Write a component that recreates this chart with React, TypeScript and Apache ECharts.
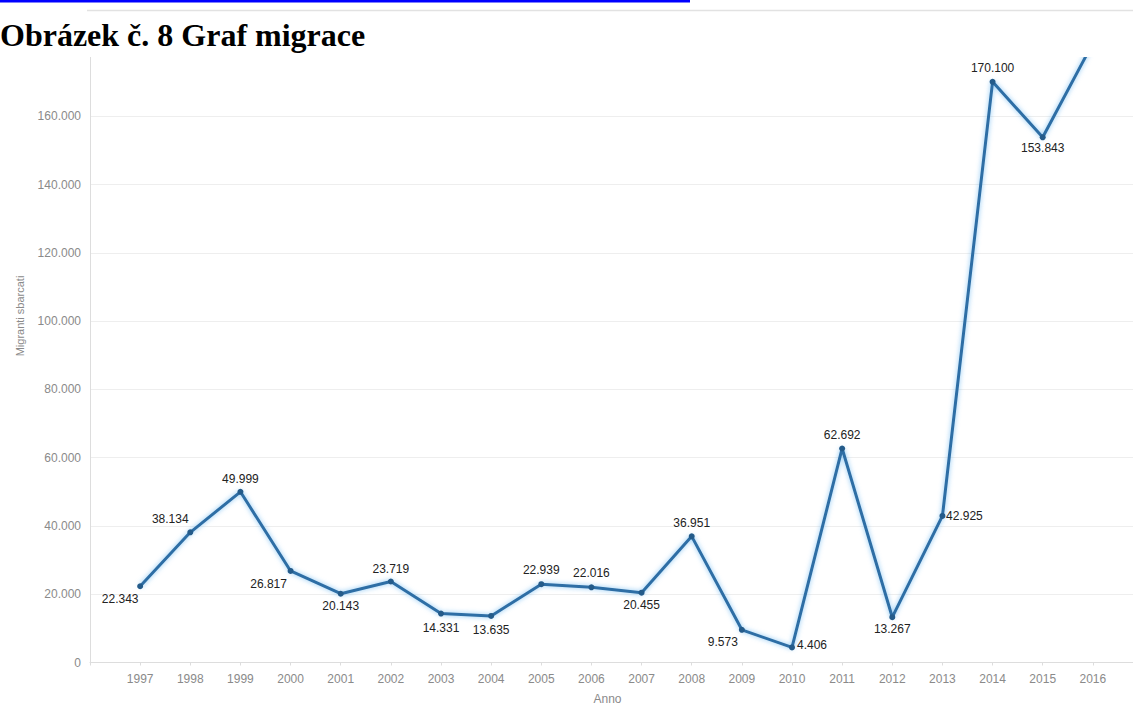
import React, { useEffect, useRef } from "react";
import * as echarts from "echarts";

const years: number[] = [1997, 1998, 1999, 2000, 2001, 2002, 2003, 2004, 2005, 2006, 2007, 2008, 2009, 2010, 2011, 2012, 2013, 2014, 2015, 2016];
const migrants: number[] = [22343, 38134, 49999, 26817, 20143, 23719, 14331, 13635, 22939, 22016, 20455, 36951, 9573, 4406, 62692, 13267, 42925, 170100, 153843, 181436];
// where each value label sits relative to its point (dx, dy in px); null = not visible
const labelOffsets: ([number, number] | null)[] = [
  [-20, 13], [-20, -13], [0, -13], [-22, 13], [0, 12], [0, -13], [0, 14], [0, 14], [0, -14], [0, -14],
  [0, 12], [0, -13], [-19, 12], [20, -2], [0, -13], [0, 12], [22, 0], [0, -14], [0, 11], null,
];

const chartTitle = "Obrázek č. 8 Graf migrace";
const xAxisName = "Anno";
const yAxisName = "Migranti sbarcati";
const xMin = 1996;
const xMax = 2017;
const yMin = 0;
const yMax = 180000;
const yStep = 20000;

const fmt = (n: number) => String(n).replace(/\B(?=(\d{3})+(?!\d))/g, ".");

export default function App() {
  const ref = useRef<HTMLDivElement>(null);
  useEffect(() => {
    if (!ref.current) return;
    const chart = echarts.init(ref.current, undefined, { renderer: "svg" });
    const sans = "Arial, 'Liberation Sans', sans-serif";
    chart.setOption({
      animation: false,
      backgroundColor: "#ffffff",
      grid: { left: 90, top: 48, width: 1053, height: 614.5, containLabel: false, outerBoundsMode: "none" },
      xAxis: {
        type: "value",
        min: xMin,
        max: xMax,
        interval: 1,
        name: xAxisName,
        nameLocation: "middle",
        nameGap: 30,
        nameTextStyle: { color: "#8a8a8a", fontSize: 12, fontFamily: sans, padding: [0, 18, 0, 0] },
        axisLine: { show: true, lineStyle: { color: "#dddddd", width: 1 } },
        axisTick: { show: true, length: 3, lineStyle: { color: "#dddddd" } },
        splitLine: { show: false },
        axisLabel: {
          color: "#8a8a8a",
          fontSize: 12,
          fontFamily: sans,
          margin: 10,
          formatter: (v: number) => (v <= xMin || v >= xMax ? "" : String(v)),
        },
      },
      yAxis: {
        type: "value",
        min: yMin,
        max: yMax,
        interval: yStep,
        axisLine: { show: true, lineStyle: { color: "#dddddd", width: 1 } },
        axisTick: { show: false },
        splitLine: { show: true, lineStyle: { color: "#eeeeee", width: 1 } },
        axisLabel: {
          color: "#8a8a8a",
          fontSize: 12,
          fontFamily: sans,
          margin: 9,
          formatter: (v: number) => (v >= yMax ? "" : fmt(v)),
        },
      },
      series: [
        {
          type: "line",
          clip: true,
          symbol: "circle",
          symbolSize: 6,
          itemStyle: { color: "#245b8a" },
          lineStyle: { color: "#2d6ea5", width: 3, shadowColor: "rgba(90,175,240,0.75)", shadowBlur: 5 },
          label: {
            show: true,
            position: "inside",
            color: "#222222",
            fontSize: 12,
            fontFamily: sans,
            formatter: (p: any) => fmt(p.value[1]),
          },
          data: years.map((y, i) => {
            const off = labelOffsets[i];
            return {
              value: [y, migrants[i]],
              label: off ? { show: true, offset: off } : { show: false },
            };
          }),
        },
      ],
      graphic: [
        { type: "rect", z: 100, shape: { x: 0, y: 0, width: 1133, height: 57 }, style: { fill: "#ffffff" } },
        { type: "rect", z: 101, shape: { x: 0, y: 0, width: 690, height: 2.5 }, style: { fill: "#0000ff" } },
        { type: "line", z: 101, shape: { x1: 87, y1: 10.5, x2: 1133, y2: 10.5 }, style: { stroke: "#e2e2e2", lineWidth: 1.5 } },
        {
          type: "text",
          z: 101,
          x: 0,
          y: 35,
          style: {
            text: chartTitle,
            font: "bold 32px 'Liberation Serif', 'Times New Roman', serif",
            fill: "#000000",
            align: "left",
            verticalAlign: "middle",
          },
        },
        {
          type: "text",
          z: 50,
          x: 20,
          y: 316,
          rotation: Math.PI / 2,
          style: {
            text: yAxisName,
            font: "11px Arial, 'Liberation Sans', sans-serif",
            fill: "#8a8a8a",
            align: "center",
            verticalAlign: "middle",
          },
        },
      ],
    });
    return () => chart.dispose();
  }, []);
  return <div ref={ref} style={{ position: "fixed", left: 0, top: 0, width: 1133, height: 704 }} />;
}
